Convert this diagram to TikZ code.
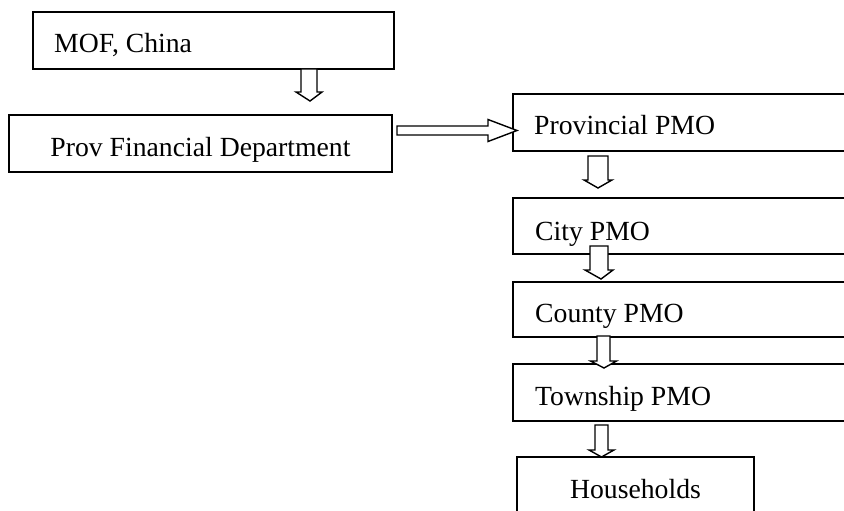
\documentclass[tikz,border=0pt]{standalone}
\usepackage{fontspec}
\setmainfont{Liberation Serif}
\usetikzlibrary{calc}
\begin{document}
\begin{tikzpicture}[x=1pt,y=-1pt,
  box/.style={draw, line width=1.4pt, rectangle, inner sep=0pt, fill=white},
  lbl/.style={font=\fontsize{27.7}{33}\selectfont, inner sep=0pt},
  darrow/.style n args={3}{draw, fill=white, line width=1.4pt, line join=miter,
    to path={let \p1=(\tikztostart), \p2=(\tikztotarget) in
      (\x1-#1pt,\y1) -- (\x1+#1pt,\y1) -- (\x1+#1pt,\y2+#3pt) -- (\x1+#2pt,\y2+#3pt)
      -- (\x2,\y2) -- (\x1-#2pt,\y2+#3pt) -- (\x1-#1pt,\y2+#3pt) -- cycle}},
  rarrow/.style n args={3}{draw, fill=white, line width=1.4pt, line join=miter,
    to path={let \p1=(\tikztostart), \p2=(\tikztotarget) in
      (\x1,\y1+#1pt) -- (\x2-#3pt,\y1+#1pt) -- (\x2-#3pt,\y1+#2pt) -- (\x2,\y2)
      -- (\x2-#3pt,\y1-#2pt) -- (\x2-#3pt,\y1-#1pt) -- (\x1,\y1-#1pt) -- cycle}}]
\useasboundingbox (0,0) rectangle (844,511);
\clip (0,0) rectangle (844,511);
% boxes
\node[box, minimum width=361pt, minimum height=57pt] (mof) at (213.5,40.5) {};
\node[box, minimum width=383pt, minimum height=57pt] (prov) at (200.5,143.5) {};
\node[box, minimum width=387pt, minimum height=57pt] (ppmo) at (706.5,122.5) {};
\node[box, minimum width=387pt, minimum height=56pt] (city) at (706.5,226) {};
\node[box, minimum width=387pt, minimum height=55pt] (county) at (706.5,309.5) {};
\node[box, minimum width=387pt, minimum height=57pt] (town) at (706.5,392.5) {};
\node[box, minimum width=237pt, minimum height=103pt] (house) at (635.5,508.5) {};
% labels
\node[lbl, anchor=base west] (tmof) at (54,53) {MOF, China};
\node[lbl, anchor=base] (tprov) at (200.5,157) {Prov Financial Department};
\node[lbl, anchor=base west] (tppmo) at (534,135) {Provincial PMO};
\node[lbl, anchor=base west] (tcity) at (535,240) {City PMO};
\node[lbl, anchor=base west] (tcounty) at (535,322) {County PMO};
\node[lbl, anchor=base west] (ttown) at (535,405) {Township PMO};
\node[lbl, anchor=base] (thouse) at (635.5,498) {Households};
% arrow end points
\coordinate (a1s) at (309,69);   \coordinate (a1t) at (310,101);
\coordinate (a2s) at (397,130.5); \coordinate (a2t) at (517,130.5);
\coordinate (a3s) at (598,156);  \coordinate (a3t) at (598,188);
\coordinate (a4s) at (599,246);  \coordinate (a4t) at (601,279);
\coordinate (a5s) at (603.5,336); \coordinate (a5t) at (604,368);
\coordinate (a6s) at (601.5,425); \coordinate (a6t) at (601.5,457);
% arrows
\draw[darrow={8}{13}{9}] (a1s) to (a1t);
\draw[rarrow={4.5}{11}{29}] (a2s) to (a2t);
\draw[darrow={10}{14}{8}] (a3s) to (a3t);
\draw[darrow={9}{14}{9}] (a4s) to (a4t);
\draw[darrow={6.5}{13}{7}] (a5s) to (a5t);
\draw[darrow={6.5}{12.5}{7}] (a6s) to (a6t);
\end{tikzpicture}
\end{document}
